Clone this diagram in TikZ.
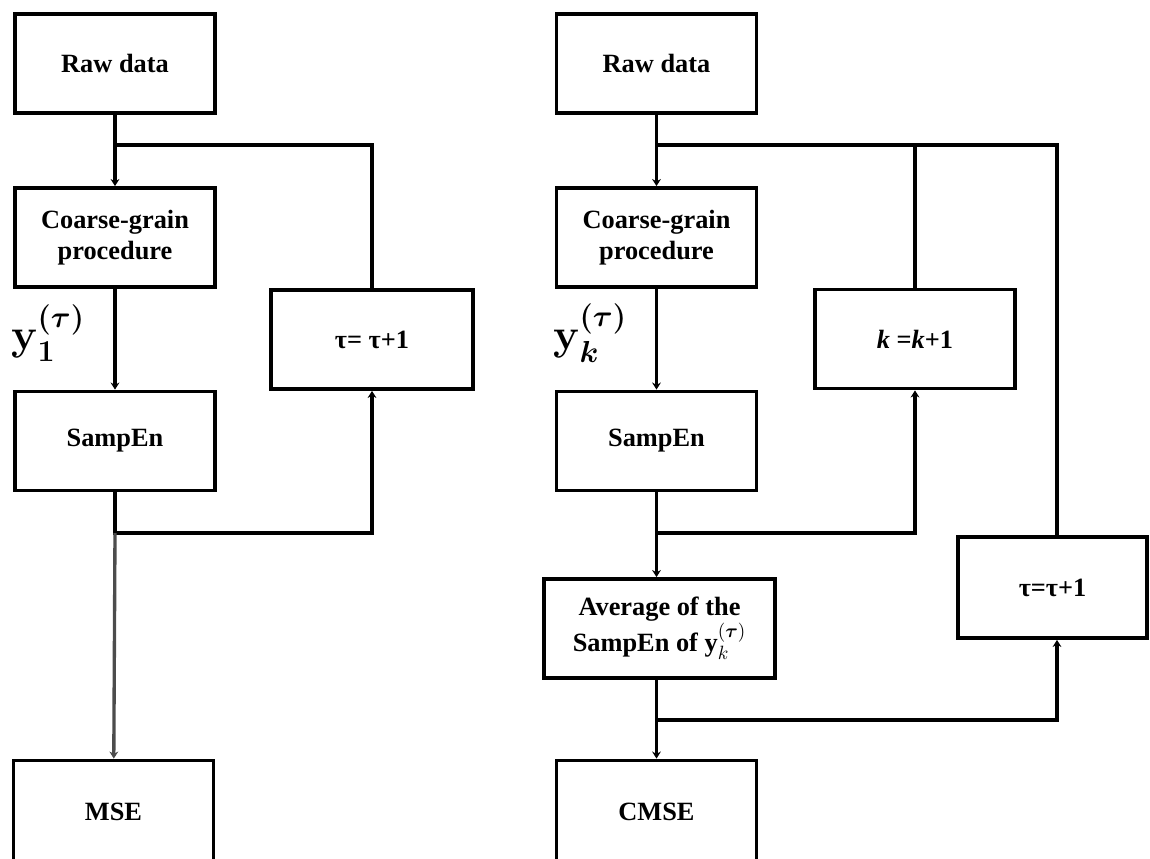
\documentclass[tikz,border=0pt]{standalone}
\usepackage{amsmath}
\usepackage{bm}
\usepackage[no-math]{fontspec}
\setmainfont{Liberation Serif}
\usetikzlibrary{arrows.meta}
\tikzset{
  box/.style={draw, line width=2.2pt, minimum width=4cm, minimum height=1.98cm,
    inner sep=0pt, align=center, font=\bfseries\fontsize{15}{17.5}\selectfont},
  conn/.style={line width=1.9pt},
  arr/.style={-{Stealth[length=4pt,width=5pt]}},
  lbl/.style={inner sep=0pt, font=\fontsize{25}{28}\selectfont}
}
\begin{document}
\begin{tikzpicture}[x=0.02cm,y=-0.02cm]
\useasboundingbox (0,0) rectangle (1150,859);
% left column
\node[box] (raw1) at (115,63.5) {Raw data};
\node[box] (cg1) at (115,237.5) {Coarse-grain\\procedure};
\node[box] (se1) at (115,441) {SampEn};
\node[box, minimum height=2.06cm] (mse) at (113.5,812) {MSE};
\node[box, minimum width=4.04cm] (tau1) at (372,339.5) {τ= τ+1};
\node[lbl] (y1) at (48,333) {$\bm{\mathrm{y}_1^{(\tau)}}$};
% right column
\node[box] (raw2) at (656.5,63.5) {Raw data};
\node[box] (cg2) at (656.5,237.5) {Coarse-grain\\procedure};
\node[box] (se2) at (656.5,441) {SampEn};
\node[box] (k) at (915,339) {\textit{k} =\textit{k}+1};
\node[box, minimum width=4.62cm] (avg) at (659.5,628.5) {Average of the\\SampEn of y$_k^{(\bm{\tau})}$};
\node[box, minimum width=3.78cm, minimum height=2.02cm] (tau2) at (1052.5,587.5) {τ=τ+1};
\node[box, minimum height=2.06cm] (cmse) at (656.5,812) {CMSE};
\node[lbl] (yk) at (590,333) {$\bm{\mathrm{y}_k^{(\tau)}}$};
% junctions
\coordinate (j1) at (115,145);
\coordinate (j2) at (115,533);
\coordinate (j3) at (656.5,145);
\coordinate (j4) at (915,145);
\coordinate (j5) at (656.5,533);
\coordinate (j6) at (656.5,720);
\coordinate (j7) at (1057,145);
% left connectors
\draw[conn] (raw1) -- (j1);
\draw[conn,arr] (j1) -- (cg1);
\draw[conn] (j1) -| (tau1.north);
\draw[conn,arr] (cg1) -- (se1);
\draw[conn,arr] (se1) -- (j2) -| (tau1.south);
\draw[conn,arr,black!70] (j2) -- (mse);
% right connectors
\draw[conn] (raw2) -- (j3);
\draw[conn,arr] (j3) -- (cg2);
\draw[conn] (j3) -- (j7) -- (j7 |- tau2.north);
\draw[conn] (j4) -- (k.north);
\draw[conn,arr] (cg2) -- (se2);
\draw[conn,arr] (se2.south) -- (se2.south |- avg.north);
\draw[conn,arr] (j5) -| (k.south);
\draw[conn,arr] (j6 |- avg.south) -- (cmse.north);
\draw[conn,arr] (j6) -| (j7 |- tau2.south);
\end{tikzpicture}
\end{document}
